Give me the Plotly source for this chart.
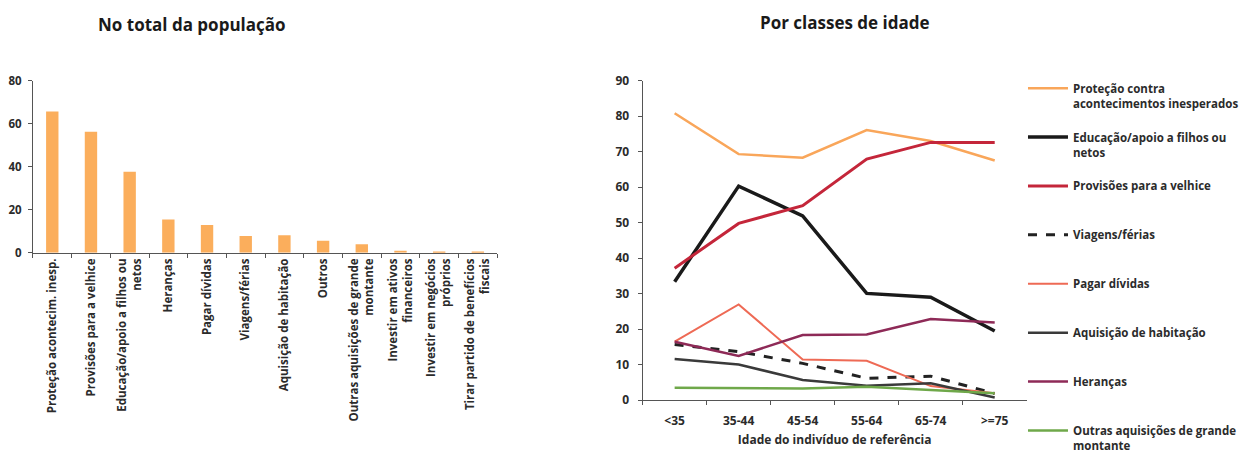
import plotly.graph_objects as go

# ---- Left chart data ----
bar_categories = [
    "Proteção acontecim. inesp.",
    "Provisões para a velhice",
    "Educação/apoio a filhos ou<br>netos",
    "Heranças",
    "Pagar dívidas",
    "Viagens/férias",
    "Aquisição de habitação",
    "Outros",
    "Outras aquisições de grande<br>montante",
    "Investir em ativos<br>financeiros",
    "Investir em negócios<br>próprios",
    "Tirar partido de benefícios<br>fiscais",
]
bar_values = [65.6, 56.3, 37.7, 15.5, 12.9, 7.8, 8.2, 5.6, 4.0, 1.0, 0.6, 0.3]

# ---- Right chart data ----
age_classes = ["<35", "35-44", "45-54", "55-64", "65-74", ">=75"]
protecao = [80.8, 69.3, 68.3, 76.1, 73.0, 67.5]
educacao = [33.4, 60.3, 51.9, 30.1, 29.0, 19.5]
provisoes = [37.2, 49.8, 54.8, 67.9, 72.6, 72.6]
viagens = [15.7, 13.7, 10.4, 6.2, 6.8, 1.9]
pagar_dividas = [16.5, 27.0, 11.5, 11.1, 4.0, 2.0]
aquisicao_hab = [11.6, 10.1, 5.7, 4.1, 4.8, 0.8]
herancas = [16.5, 12.5, 18.4, 18.5, 22.9, 21.9]
outras_aquis = [3.5, 3.5, 3.3, 3.8, 3.0, 2.0]

series = [
    ("Proteção contra<br>acontecimentos inesperados", protecao, "#F9A65A", 2.5, "solid"),
    ("Educação/apoio a filhos ou<br>netos", educacao, "#1A1A1A", 3.5, "solid"),
    ("Provisões para a velhice<br> ", provisoes, "#C4263A", 3, "solid"),
    ("Viagens/férias<br> ", viagens, "#222222", 3, "dash"),
    ("Pagar dívidas<br> ", pagar_dividas, "#EE6A55", 2, "solid"),
    ("Aquisição de habitação<br> ", aquisicao_hab, "#3A3A3A", 2.5, "solid"),
    ("Heranças<br> ", herancas, "#8E2A57", 2.5, "solid"),
    ("Outras aquisições de grande<br>montante", outras_aquis, "#6FA84A", 2.5, "solid"),
]

FONT = "Open Sans"
TXT = "#2b2b2b"

fig = go.Figure()

fig.add_trace(go.Bar(
    x=bar_categories, y=bar_values,
    marker=dict(color="#FBAE5C", line=dict(width=0)),
    xaxis="x", yaxis="y", showlegend=False,
))

for i, (name, vals, color, width, dash) in enumerate(series):
    fig.add_trace(go.Scatter(
        x=age_classes, y=vals, mode="lines", name=name,
        line=dict(color=color, width=width, dash=dash),
        xaxis="x2", yaxis="y2", legendgroup=f"g{i}",
    ))


def axis_common(size):
    return dict(
        showgrid=False, zeroline=False, showline=True, linecolor="#555555", linewidth=1.2,
        ticks="outside", ticklen=4, tickcolor="#555555", automargin=False,
        tickfont=dict(family=FONT, size=size, color=TXT, weight="bold"),
    )


fig.update_layout(
    width=1243, height=458,
    margin=dict(l=0, r=0, t=0, b=0, autoexpand=False),
    paper_bgcolor="white", plot_bgcolor="white",
    font=dict(family=FONT, color=TXT),
    bargap=0.68,
    xaxis=dict(domain=[0.0265, 0.400], type="category", tickangle=-90,
               tickson="boundaries", anchor="y", range=[-0.5, 11.5], **axis_common(11.5)),
    yaxis=dict(domain=[0.448, 0.824], range=[0, 80], dtick=20, anchor="x",
               ticklabelstandoff=4, **axis_common(11.5)),
    xaxis2=dict(domain=[0.517, 0.826], type="category", tickson="boundaries", anchor="y2",
                range=[-0.5, 5.5], ticklabelstandoff=9,
                title=dict(text="Idade do indivíduo de referência", standoff=7,
                           font=dict(family=FONT, size=12, color=TXT, weight="bold")),
                **axis_common(12)),
    yaxis2=dict(domain=[0.126, 0.824], range=[0, 90], dtick=10, anchor="x2",
                ticklabelstandoff=6, **axis_common(12)),
    legend=dict(
        x=0.823, y=0.838, xanchor="left", yanchor="top",
        font=dict(family=FONT, size=11.5, color=TXT, weight="bold"),
        tracegroupgap=16, itemwidth=40, valign="top",
        bgcolor="rgba(0,0,0,0)",
    ),
    annotations=[
        dict(text="No total da população", x=192, y=24, xref="paper", yref="paper",
             xanchor="center", yanchor="middle", showarrow=False,
             font=dict(family=FONT, size=17, color="#1a1a1a", weight="bold")),
        dict(text="Por classes de idade", x=845, y=22, xref="paper", yref="paper",
             xanchor="center", yanchor="middle", showarrow=False,
             font=dict(family=FONT, size=17, color="#1a1a1a", weight="bold")),
    ],
)

# convert title annotation positions from pixels to paper coordinates
W, H = 1243, 458
for a in fig.layout.annotations:
    a.x = a.x / W
    a.y = 1 - a.y / H

fig.write_html("out.html", config={"displayModeBar": False},
               post_script="document.body.style.margin='0';")
